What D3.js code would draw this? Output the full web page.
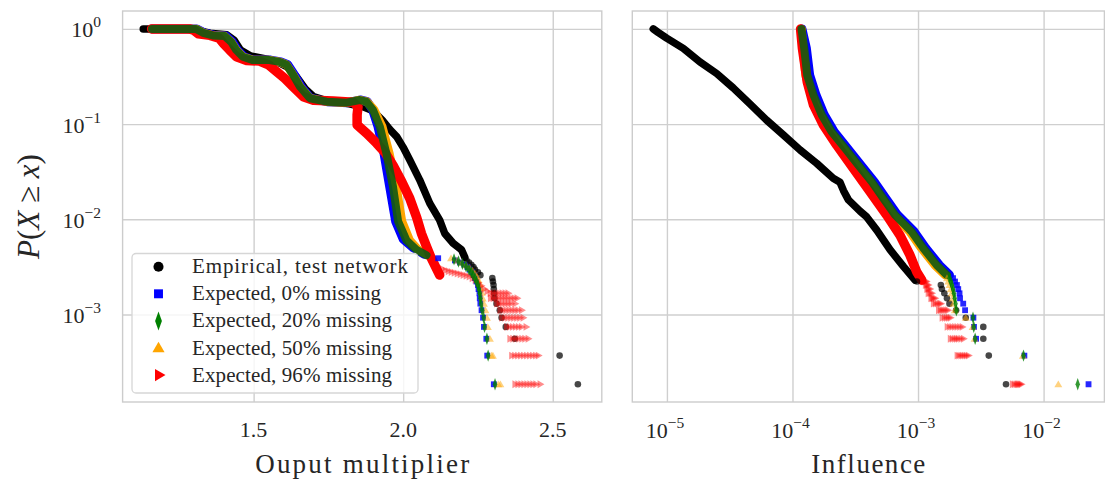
<!DOCTYPE html>
<html lang="en">
<head>
<meta charset="UTF-8">
<title>CCDF of output multiplier and influence</title>
<script src="https://cdn.jsdelivr.net/npm/d3@7"></script>
<style>
  body { margin: 0; background: #fff; }
  text { font-family: "Liberation Serif", "Times New Roman", serif; fill: #262626; }
</style>
</head>
<body>
<svg id="chart" width="1105" height="483"></svg>
<script>
// ---- data: [value, P(X >= x)] ----
// left panel, output multiplier (dense part drawn as a band, tail as single markers)
const multEmpirical = [[1.131,1.0],[1.20,1.0],[1.27,0.995],[1.31,0.97],[1.354,0.90],[1.41,0.87],[1.435,0.76],[1.456,0.60],[1.49,0.52],[1.545,0.48],[1.58,0.45],[1.612,0.40],[1.645,0.31],[1.672,0.235],[1.70,0.195],[1.74,0.178],[1.811,0.165],[1.866,0.152],[1.899,0.138],[1.93,0.11],[1.955,0.088],[1.978,0.074],[2.0,0.057],[2.022,0.042],[2.055,0.026],[2.089,0.0147],[2.122,0.0098],[2.139,0.0071],[2.167,0.0056],[2.195,0.0048],[2.206,0.0040]];
const mult0 = [[1.16,1.0],[1.22,1.0],[1.31,1.0],[1.334,0.91],[1.367,0.86],[1.407,0.845],[1.429,0.73],[1.446,0.60],[1.468,0.51],[1.50,0.47],[1.557,0.47],[1.591,0.45],[1.614,0.42],[1.636,0.33],[1.659,0.247],[1.69,0.187],[1.746,0.172],[1.813,0.168],[1.859,0.179],[1.88,0.172],[1.898,0.141],[1.916,0.094],[1.936,0.049],[1.955,0.022],[1.975,0.0095],[2.0,0.0062],[2.035,0.0050],[2.07,0.0043]];
const mult20 = [[1.16,1.0],[1.22,1.0],[1.308,1.0],[1.331,0.91],[1.364,0.855],[1.403,0.84],[1.425,0.73],[1.442,0.60],[1.464,0.51],[1.498,0.47],[1.553,0.47],[1.587,0.45],[1.61,0.42],[1.632,0.33],[1.655,0.247],[1.688,0.187],[1.744,0.172],[1.811,0.168],[1.855,0.179],[1.877,0.172],[1.899,0.141],[1.922,0.094],[1.944,0.049],[1.966,0.022],[1.983,0.0095],[2.011,0.0060],[2.044,0.0048],[2.078,0.0042]];
const mult50 = [[1.16,1.0],[1.22,1.0],[1.308,1.0],[1.331,0.91],[1.364,0.855],[1.403,0.84],[1.425,0.73],[1.442,0.60],[1.464,0.51],[1.498,0.47],[1.553,0.47],[1.587,0.45],[1.61,0.42],[1.632,0.33],[1.655,0.247],[1.688,0.187],[1.744,0.172],[1.811,0.168],[1.855,0.179],[1.879,0.172],[1.903,0.141],[1.93,0.094],[1.954,0.049],[1.977,0.022],[1.996,0.0095],[2.022,0.0060],[2.05,0.0048],[2.085,0.0042]];
const mult96 = [[1.159,1.0],[1.226,1.0],[1.285,1.0],[1.30,0.97],[1.315,0.89],[1.354,0.855],[1.385,0.80],[1.40,0.70],[1.42,0.60],[1.443,0.51],[1.477,0.465],[1.52,0.46],[1.55,0.42],[1.575,0.36],[1.605,0.30],[1.63,0.25],[1.666,0.194],[1.70,0.178],[1.766,0.175],[1.833,0.17],[1.849,0.152],[1.846,0.125],[1.846,0.106],[1.846,0.098],[1.878,0.080],[1.911,0.063],[1.94,0.050],[1.966,0.037],[1.995,0.025],[2.022,0.0166],[2.045,0.0105],[2.061,0.0071],[2.08,0.0050],[2.094,0.0039],[2.122,0.0026]];

const multEmpiricalTail = [[2.212,3.70e-3],[2.22,3.52e-3],[2.228,3.33e-3],[2.235,3.15e-3],[2.24,2.96e-3],[2.25,2.78e-3],[2.258,2.59e-3],[2.298,2.41e-3],[2.300,2.22e-3],[2.302,2.04e-3],[2.303,1.85e-3],[2.304,1.67e-3],[2.305,1.48e-3],[2.312,1.30e-3],[2.323,1.11e-3],[2.329,9.26e-4],[2.343,7.41e-4],[2.373,5.56e-4],[2.523,3.70e-4],[2.584,1.85e-4]];
const mult0Tail = [[2.117,3.9e-3],[2.173,3.70e-3],[2.19,3.52e-3],[2.205,3.33e-3],[2.215,3.15e-3],[2.222,2.96e-3],[2.23,2.78e-3],[2.236,2.59e-3],[2.24,2.41e-3],[2.245,2.22e-3],[2.25,2.04e-3],[2.252,1.85e-3],[2.255,1.67e-3],[2.256,1.48e-3],[2.258,1.30e-3],[2.262,1.11e-3],[2.267,9.26e-4],[2.270,7.41e-4],[2.278,5.56e-4],[2.281,3.70e-4],[2.303,1.85e-4]];
const mult20Tail = [[2.17,3.8e-3],[2.185,3.6e-3],[2.198,3.4e-3],[2.21,3.2e-3],[2.22,2.96e-3],[2.228,2.78e-3],[2.234,2.59e-3],[2.24,2.41e-3],[2.245,2.22e-3],[2.25,2.04e-3],[2.253,1.85e-3],[2.256,1.67e-3],[2.258,1.48e-3],[2.26,1.30e-3],[2.264,1.11e-3],[2.269,9.26e-4],[2.272,7.41e-4],[2.28,5.56e-4],[2.284,3.70e-4],[2.307,1.85e-4]];
const mult50Tail = [[2.16,3.9e-3],[2.18,3.7e-3],[2.195,3.5e-3],[2.21,3.3e-3],[2.222,3.1e-3],[2.232,2.9e-3],[2.24,2.7e-3],[2.246,2.5e-3],[2.252,2.3e-3],[2.256,2.1e-3],[2.26,1.9e-3],[2.263,1.7e-3],[2.266,1.48e-3],[2.27,1.30e-3],[2.275,1.11e-3],[2.28,9.26e-4],[2.283,7.41e-4],[2.29,5.56e-4],[2.295,3.70e-4],[2.30,3.70e-4],[2.318,1.85e-4],[2.325,1.85e-4]];
const mult96Tail = [
  [2.13,3.0e-3],[2.14,2.9e-3],[2.15,2.85e-3],[2.16,2.8e-3],[2.17,2.75e-3],[2.18,2.7e-3],[2.19,2.65e-3],[2.20,2.6e-3],[2.21,2.55e-3],[2.22,2.5e-3],[2.23,2.4e-3],[2.24,2.3e-3],[2.25,2.15e-3],[2.26,2.0e-3],[2.27,1.85e-3],[2.28,1.75e-3],
  [2.29,1.67e-3],[2.30,1.67e-3],[2.31,1.67e-3],[2.32,1.67e-3],[2.33,1.67e-3],[2.34,1.67e-3],[2.35,1.67e-3],
  [2.291,1.48e-3],[2.30,1.48e-3],[2.31,1.48e-3],[2.32,1.48e-3],[2.33,1.48e-3],[2.34,1.48e-3],[2.35,1.48e-3],[2.36,1.48e-3],[2.37,1.48e-3],[2.38,1.48e-3],
  [2.312,1.30e-3],[2.32,1.30e-3],[2.33,1.30e-3],[2.34,1.30e-3],[2.35,1.30e-3],[2.36,1.30e-3],[2.373,1.30e-3],
  [2.323,1.11e-3],[2.333,1.11e-3],[2.343,1.11e-3],[2.353,1.11e-3],[2.363,1.11e-3],[2.373,1.11e-3],[2.383,1.11e-3],[2.395,1.11e-3],
  [2.329,9.26e-4],[2.339,9.26e-4],[2.349,9.26e-4],[2.359,9.26e-4],[2.369,9.26e-4],[2.379,9.26e-4],[2.389,9.26e-4],[2.40,9.26e-4],
  [2.345,7.41e-4],[2.355,7.41e-4],[2.365,7.41e-4],[2.375,7.41e-4],[2.385,7.41e-4],[2.395,7.41e-4],[2.41,7.41e-4],
  [2.356,5.56e-4],[2.366,5.56e-4],[2.376,5.56e-4],[2.386,5.56e-4],[2.396,5.56e-4],[2.406,5.56e-4],[2.417,5.56e-4],
  [2.362,3.70e-4],[2.372,3.70e-4],[2.382,3.70e-4],[2.392,3.70e-4],[2.402,3.70e-4],[2.412,3.70e-4],[2.422,3.70e-4],[2.432,3.70e-4],[2.442,3.70e-4],[2.451,3.70e-4],
  [2.373,1.85e-4],[2.383,1.85e-4],[2.393,1.85e-4],[2.403,1.85e-4],[2.413,1.85e-4],[2.423,1.85e-4],[2.433,1.85e-4],[2.443,1.85e-4],[2.457,1.85e-4]];

// right panel, influence
const inflEmpirical = [[7.78e-6,1.0],[8.5e-6,0.92],[9.95e-6,0.80],[1.35e-5,0.625],[1.83e-5,0.45],[2.49e-5,0.34],[3.37e-5,0.24],[4.58e-5,0.163],[6.22e-5,0.110],[8.45e-5,0.077],[1.15e-4,0.0535],[1.56e-4,0.0387],[2.11e-4,0.027],[2.39e-4,0.0245],[2.55e-4,0.020],[2.79e-4,0.016],[3.45e-4,0.0122],[3.90e-4,0.0106],[4.69e-4,0.0077],[5.98e-4,0.0048],[7.64e-4,0.0032],[9.46e-4,0.0023]];
const infl0 = [[1.19e-4,1.0],[1.29e-4,0.625],[1.37e-4,0.328],[1.54e-4,0.202],[1.79e-4,0.125],[2.15e-4,0.083],[2.74e-4,0.0557],[3.50e-4,0.0372],[4.48e-4,0.0248],[5.53e-4,0.0166],[6.87e-4,0.0111],[9.33e-4,0.0074],[1.15e-3,0.0050],[1.48e-3,0.0033],[1.78e-3,0.0026]];
const infl20 = [[1.18e-4,1.0],[1.24e-4,0.625],[1.31e-4,0.328],[1.47e-4,0.202],[1.71e-4,0.125],[2.05e-4,0.083],[2.62e-4,0.0557],[3.34e-4,0.0372],[4.28e-4,0.0248],[5.28e-4,0.0166],[6.56e-4,0.0111],[8.91e-4,0.0074],[1.10e-3,0.0050],[1.41e-3,0.0033],[1.70e-3,0.0026]];
const infl50 = [[1.18e-4,1.0],[1.21e-4,0.625],[1.27e-4,0.328],[1.41e-4,0.202],[1.65e-4,0.125],[1.98e-4,0.083],[2.53e-4,0.0557],[3.22e-4,0.0372],[4.13e-4,0.0248],[5.10e-4,0.0166],[6.34e-4,0.0111],[8.6e-4,0.0074],[1.06e-3,0.0050],[1.36e-3,0.0033],[1.64e-3,0.0026]];
const infl96 = [[1.16e-4,1.0],[1.20e-4,0.625],[1.31e-4,0.279],[1.47e-4,0.159],[1.76e-4,0.098],[2.25e-4,0.0603],[3.05e-4,0.0344],[4.15e-4,0.0195],[5.62e-4,0.0111],[7.19e-4,0.0068],[8.63e-4,0.0042],[9.77e-4,0.0028],[1.07e-3,0.0023]];

const inflEmpiricalTail = [[9.8e-4,2.22e-3],[1.52e-3,2.04e-3],[1.55e-3,1.85e-3],[1.62e-3,1.67e-3],[1.70e-3,1.48e-3],[1.78e-3,1.30e-3],[2.01e-3,1.11e-3],[2.40e-3,9.26e-4],[3.31e-3,7.41e-4],[3.31e-3,5.56e-4],[3.66e-3,3.70e-4],[5.02e-3,1.85e-4]];
const infl0Tail = [[1.9e-3,2.41e-3],[1.97e-3,2.22e-3],[2.04e-3,2.04e-3],[2.09e-3,1.85e-3],[2.14e-3,1.67e-3],[2.16e-3,1.48e-3],[2.29e-3,1.30e-3],[2.37e-3,1.11e-3],[2.76e-3,9.26e-4],[2.79e-3,7.41e-4],[2.90e-3,5.56e-4],[7.03e-3,3.70e-4],[2.28e-2,1.85e-4]];
const infl20Tail = [[1.78e-3,2.41e-3],[1.82e-3,2.22e-3],[1.86e-3,2.04e-3],[1.9e-3,1.85e-3],[1.93e-3,1.67e-3],[1.96e-3,1.48e-3],[1.99e-3,1.30e-3],[2.02e-3,1.11e-3],[2.74e-3,9.26e-4],[2.78e-3,7.41e-4],[2.85e-3,5.56e-4],[6.92e-3,3.70e-4],[1.87e-2,1.85e-4]];
const infl50Tail = [[1.7e-3,2.41e-3],[1.74e-3,2.22e-3],[1.78e-3,2.04e-3],[1.82e-3,1.85e-3],[1.85e-3,1.67e-3],[1.88e-3,1.48e-3],[1.91e-3,1.30e-3],[1.96e-3,1.11e-3],[2.40e-3,9.26e-4],[2.72e-3,7.41e-4],[2.82e-3,5.56e-4],[6.84e-3,3.70e-4],[1.31e-2,1.85e-4]];
const infl96Tail = [
  [1.10e-3,2.22e-3],[1.13e-3,2.22e-3],[1.16e-3,2.22e-3],
  [1.14e-3,2.04e-3],[1.17e-3,2.04e-3],[1.20e-3,2.04e-3],
  [1.17e-3,1.85e-3],[1.20e-3,1.85e-3],[1.24e-3,1.85e-3],
  [1.20e-3,1.67e-3],[1.24e-3,1.67e-3],[1.28e-3,1.67e-3],
  [1.26e-3,1.48e-3],[1.29e-3,1.48e-3],[1.32e-3,1.48e-3],[1.36e-3,1.48e-3],
  [1.32e-3,1.30e-3],[1.37e-3,1.30e-3],[1.42e-3,1.30e-3],[1.47e-3,1.30e-3],[1.51e-3,1.30e-3],
  [1.45e-3,1.11e-3],[1.50e-3,1.11e-3],[1.55e-3,1.11e-3],[1.60e-3,1.11e-3],[1.66e-3,1.11e-3],[1.72e-3,1.11e-3],
  [1.55e-3,9.26e-4],[1.62e-3,9.26e-4],[1.68e-3,9.26e-4],[1.74e-3,9.26e-4],[1.80e-3,9.26e-4],
  [1.70e-3,7.41e-4],[1.78e-3,7.41e-4],[1.86e-3,7.41e-4],[1.95e-3,7.41e-4],[2.04e-3,7.41e-4],[2.14e-3,7.41e-4],[2.24e-3,7.41e-4],
  [1.80e-3,5.56e-4],[1.87e-3,5.56e-4],[1.95e-3,5.56e-4],[2.02e-3,5.56e-4],[2.09e-3,5.56e-4],[2.19e-3,5.56e-4],[2.29e-3,5.56e-4],
  [2.04e-3,3.70e-4],[2.11e-3,3.70e-4],[2.19e-3,3.70e-4],[2.26e-3,3.70e-4],[2.34e-3,3.70e-4],[2.42e-3,3.70e-4],[2.51e-3,3.70e-4],
  [5.62e-3,1.85e-4],[5.82e-3,1.85e-4],[6.03e-3,1.85e-4],[6.17e-3,1.85e-4],[6.31e-3,1.85e-4],[6.46e-3,1.85e-4],[6.61e-3,1.85e-4]];

const seriesNames = ["Empirical, test network", "Expected, 0% missing", "Expected, 20% missing", "Expected, 50% missing", "Expected, 96% missing"];
const seriesColors = ["black", "blue", "green", "orange", "red"];
const pTicks = [1, 0.1, 0.01, 0.001];
const pTickExp = ["0", "\u22121", "\u22122", "\u22123"];
const multTicks = [1.5, 2.0, 2.5];
const inflTicks = [1e-5, 1e-4, 1e-3, 1e-2];
const inflTickExp = ["\u22125", "\u22124", "\u22123", "\u22122"];

// ---- layout ----
const svg = d3.select("#chart");
const plotTop = 11, plotBottom = 402;
const leftPanel = { x0: 122.6, x1: 601.8 };
const rightPanel = { x0: 632.3, x1: 1104.4 };

const yScale = d3.scaleLog().domain([1.205e-4, 1.542]).range([plotBottom, plotTop]);
const xMult = d3.scaleLinear().domain([1.062, 2.664]).range([leftPanel.x0, leftPanel.x1]);
const xInfl = d3.scaleLog().domain([5.30e-6, 3.05e-2]).range([rightPanel.x0, rightPanel.x1]);

const gridColor = "#cfcfcf";

function drawFrame(xScale, xTicks, panel) {
  const g = svg.append("g");
  // grid lines via the axes
  g.append("g")
    .attr("transform", "translate(0," + plotBottom + ")")
    .call(d3.axisBottom(xScale).tickValues(xTicks).tickSize(-(plotBottom - plotTop)).tickFormat(""))
    .call(a => a.select(".domain").remove())
    .call(a => a.selectAll("line").attr("stroke", gridColor).attr("stroke-width", 1.4));
  g.append("g")
    .attr("transform", "translate(" + panel.x0 + ",0)")
    .call(d3.axisLeft(yScale).tickValues(pTicks).tickSize(-(panel.x1 - panel.x0)).tickFormat(""))
    .call(a => a.select(".domain").remove())
    .call(a => a.selectAll("line").attr("stroke", gridColor).attr("stroke-width", 1.4));
  g.append("rect")
    .attr("x", panel.x0).attr("y", plotTop)
    .attr("width", panel.x1 - panel.x0).attr("height", plotBottom - plotTop)
    .attr("fill", "none").attr("stroke", "#cccccc").attr("stroke-width", 1.4);
}

drawFrame(xMult, multTicks, leftPanel);
drawFrame(xInfl, inflTicks, rightPanel);

// clip per panel
const defs = svg.append("defs");
[["clipL", leftPanel], ["clipR", rightPanel]].forEach(([id, p]) => {
  defs.append("clipPath").attr("id", id).append("rect")
    .attr("x", p.x0).attr("y", plotTop).attr("width", p.x1 - p.x0).attr("height", plotBottom - plotTop);
});

// markers
const markerShapes = [
  s => d3.symbol().type(d3.symbolCircle).size(s)(),
  s => d3.symbol().type(d3.symbolSquare).size(s)(),
  s => d3.symbol().type(d3.symbolDiamond).size(s * 1.3)(),
  s => d3.symbol().type(d3.symbolTriangle).size(s * 0.8)(),
  s => d3.symbol().type(d3.symbolTriangle).size(s * 0.8)()
];
const markerTransform = [
  "", "", " scale(0.62,1)", " translate(0,0.8)", " rotate(90)"
];

function drawPanel(xScale, clipId, bodies, tails) {
  const g = svg.append("g").attr("clip-path", "url(#" + clipId + ")");
  const line = d3.line().x(d => xScale(d[0])).y(d => yScale(d[1])).curve(d3.curveLinear);
  // drawing order: black, blue, orange, red, green
  const order = [0, 1, 3, 4, 2];
  const bandColor = ["#000000", "#0000ff", "#ffa500", "#ff0000", "#145a10"];
  const bandWidth = [7.5, 9, 8.5, 9.5, 8];
  const bandOpacity = [1, 1, 1, 1, 0.92];
  const tailOpacity = [0.72, 0.85, 0.8, 0.5, 0.45];
  order.forEach((si, k) => {
    g.append("path")
      .datum(bodies[si])
      .attr("d", line)
      .attr("fill", "none")
      .attr("stroke", bandColor[k])
      .attr("stroke-opacity", bandOpacity[k])
      .attr("stroke-width", bandWidth[k])
      .attr("stroke-linejoin", "round")
      .attr("stroke-linecap", "round");
  });
  order.forEach(si => {
    g.append("g").selectAll("path")
      .data(tails[si])
      .enter().append("path")
      .attr("d", markerShapes[si](34))
      .attr("transform", d => "translate(" + xScale(d[0]) + "," + yScale(d[1]) + ")" + markerTransform[si])
      .attr("fill", seriesColors[si])
      .attr("fill-opacity", tailOpacity[si]);
  });
}

drawPanel(xMult, "clipL",
  [multEmpirical, mult0, mult20, mult50, mult96],
  [multEmpiricalTail, mult0Tail, mult20Tail, mult50Tail, mult96Tail]);
drawPanel(xInfl, "clipR",
  [inflEmpirical, infl0, infl20, infl50, infl96],
  [inflEmpiricalTail, infl0Tail, infl20Tail, infl50Tail, infl96Tail]);

// ---- tick labels ----
function powerLabel(x, y, exp, anchor) {
  const t = svg.append("text")
    .attr("x", x).attr("y", y)
    .attr("text-anchor", anchor)
    .style("font-size", "22px");
  t.append("tspan").text("10");
  t.append("tspan").attr("dy", -10).style("font-size", "15.5px").text(exp);
  return t;
}

pTicks.forEach((v, i) => powerLabel(101, yScale(v) + 8.5, pTickExp[i], "end"));
inflTicks.forEach((v, i) => powerLabel(xInfl(v) - 2, 438, inflTickExp[i], "middle"));
multTicks.forEach(v => {
  svg.append("text")
    .attr("x", xMult(v)).attr("y", 437)
    .attr("text-anchor", "middle")
    .style("font-size", "22px")
    .text(d3.format(".1f")(v));
});

// ---- axis titles ----
svg.append("text")
  .attr("x", (leftPanel.x0 + leftPanel.x1) / 2).attr("y", 473)
  .attr("text-anchor", "middle")
  .style("font-size", "27px")
  .attr("textLength", 214).attr("lengthAdjust", "spacing")
  .text("Ouput multiplier");

svg.append("text")
  .attr("x", (rightPanel.x0 + rightPanel.x1) / 2).attr("y", 473)
  .attr("text-anchor", "middle")
  .style("font-size", "27px")
  .attr("textLength", 114).attr("lengthAdjust", "spacing")
  .text("Influence");

const yTitle = svg.append("text")
  .attr("transform", "translate(39," + ((plotTop + plotBottom) / 2) + ") rotate(-90)")
  .attr("text-anchor", "middle")
  .style("font-size", "31px");
yTitle.append("tspan").style("font-style", "italic").text("P");
yTitle.append("tspan").text("(");
yTitle.append("tspan").style("font-style", "italic").text("X");
yTitle.append("tspan").text(" \u2265 ");
yTitle.append("tspan").style("font-style", "italic").text("x");
yTitle.append("tspan").text(")");

// ---- legend ----
const legend = svg.append("g");
legend.append("rect")
  .attr("x", 132).attr("y", 253.5)
  .attr("width", 286).attr("height", 139.5)
  .attr("rx", 4).attr("ry", 4)
  .attr("fill", "white").attr("fill-opacity", 0.8)
  .attr("stroke", "#d6d6d6").attr("stroke-width", 1.3);

const legendRows = legend.selectAll("g.row")
  .data(seriesNames)
  .enter().append("g")
  .attr("class", "row")
  .attr("transform", (d, i) => "translate(0," + (266.7 + i * 27.1) + ")");

legendRows.append("path")
  .attr("d", (d, i) => markerShapes[i](80))
  .attr("transform", (d, i) => "translate(158.5,0)" + markerTransform[i])
  .attr("fill", (d, i) => seriesColors[i]);

legendRows.append("text")
  .attr("x", 192).attr("y", 6.5)
  .style("font-size", "21px")
  .attr("textLength", (d, i) => [216, 189, 200, 200, 200][i])
  .attr("lengthAdjust", "spacing")
  .text(d => d);
</script>
</body>
</html>
